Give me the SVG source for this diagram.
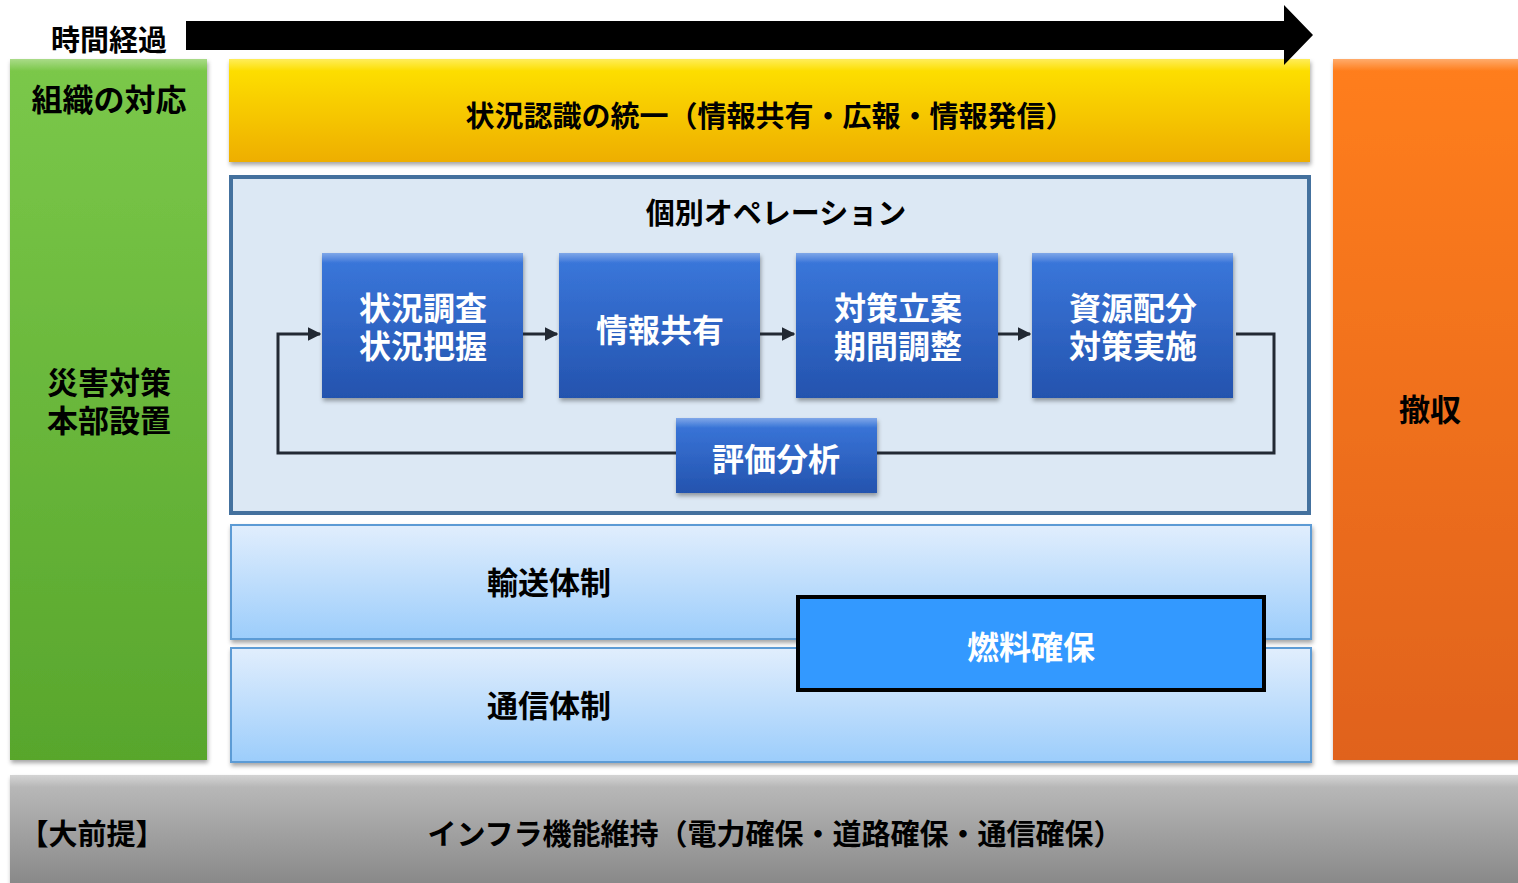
<svg xmlns="http://www.w3.org/2000/svg" width="1518" height="883" viewBox="0 0 1518 883">
<defs>
<linearGradient id="gGreen" x1="0" y1="0" x2="0" y2="1"><stop offset="0" stop-color="#7bc84a"/><stop offset="1" stop-color="#58a62c"/></linearGradient>
<linearGradient id="gYellow" x1="0" y1="0" x2="0" y2="1"><stop offset="0" stop-color="#ffe400"/><stop offset="1" stop-color="#eeae06"/></linearGradient>
<linearGradient id="gOrange" x1="0" y1="0" x2="0" y2="1"><stop offset="0" stop-color="#ff7e1c"/><stop offset="1" stop-color="#e0621a"/></linearGradient>
<linearGradient id="gBlue" x1="0" y1="0" x2="0" y2="1"><stop offset="0" stop-color="#3b78dc"/><stop offset="1" stop-color="#2453ae"/></linearGradient>
<linearGradient id="gBand" x1="0" y1="0" x2="0" y2="1"><stop offset="0" stop-color="#e1eefd"/><stop offset="1" stop-color="#9ccdfb"/></linearGradient>
<linearGradient id="gGray" x1="0" y1="0" x2="0" y2="1"><stop offset="0" stop-color="#bdbdbd"/><stop offset="1" stop-color="#888888"/></linearGradient>
<linearGradient id="gHi" x1="0" y1="0" x2="0" y2="1"><stop offset="0" stop-color="#ffffff" stop-opacity="0.35"/><stop offset="1" stop-color="#ffffff" stop-opacity="0"/></linearGradient>
<filter id="sh" x="-5%" y="-5%" width="115%" height="120%"><feDropShadow dx="1" dy="3" stdDeviation="2" flood-color="#000" flood-opacity="0.35"/></filter>
<marker id="arr" viewBox="0 0 10 10" refX="9" refY="5" markerWidth="4.5" markerHeight="4.5" orient="auto" markerUnits="strokeWidth"><path d="M0,0 L10,5 L0,10 z" fill="#222933"/></marker>
</defs>
<style>
text{font-family:"Noto Sans CJK JP","Noto Sans CJK SC",sans-serif;font-weight:bold;text-anchor:middle;dominant-baseline:central}
.k{fill:#000;font-size:29px}
.kb{fill:#000;font-size:31px}
.w{fill:#fff;font-size:32px}
.ml{dominant-baseline:auto}
.bx{fill:url(#gBlue);filter:url(#sh)}
.hi{fill:url(#gHi)}
.conn{fill:none;stroke:#222933;stroke-width:3}
</style>
<rect width="1518" height="883" fill="#fff"/>

<g id="org">
<rect x="10" y="59" width="197" height="701" fill="url(#gGreen)" filter="url(#sh)"/>
<rect x="10" y="59" width="197" height="12" class="hi"/>
<text class="kb" x="109" y="97">組織の対応</text>
<text class="kb ml" x="109" y="394">災害対策<tspan x="109" dy="38">本部設置</tspan></text>
</g>

<g id="awareness">
<rect x="229" y="59" width="1081" height="103" fill="url(#gYellow)" filter="url(#sh)"/>
<rect x="229" y="59" width="1081" height="12" class="hi"/>
<text class="k" x="770" y="114">状況認識の統一（情報共有・広報・情報発信）</text>
</g>

<g id="withdraw">
<rect x="1333" y="59" width="190" height="701" fill="url(#gOrange)" filter="url(#sh)"/>
<rect x="1333" y="59" width="190" height="12" class="hi"/>
<text class="kb" x="1430" y="407">撤収</text>
</g>

<g id="time-arrow">
<polygon points="186,21 1284,21 1284,5 1313,35 1284,65 1284,50 186,50" fill="#000"/>
<text class="k" x="109" y="38">時間経過</text>
</g>

<g id="operation">
<rect x="231" y="177" width="1078" height="336" fill="#dce8f4" stroke="#44719e" stroke-width="4"/>
<text class="k" x="776" y="211">個別オペレーション</text>
</g>

<g id="n1"><rect class="bx" x="322" y="253" width="201" height="145"/><rect class="hi" x="322" y="253" width="201" height="10"/>
<text class="w ml" x="423" y="320">状況調査<tspan x="423" dy="38">状況把握</tspan></text></g>
<g id="n2"><rect class="bx" x="559" y="253" width="201" height="145"/><rect class="hi" x="559" y="253" width="201" height="10"/>
<text class="w" x="660" y="328">情報共有</text></g>
<g id="n3"><rect class="bx" x="796" y="253" width="202" height="145"/><rect class="hi" x="796" y="253" width="202" height="10"/>
<text class="w ml" x="898" y="320">対策立案<tspan x="898" dy="38">期間調整</tspan></text></g>
<g id="n4"><rect class="bx" x="1032" y="253" width="201" height="145"/><rect class="hi" x="1032" y="253" width="201" height="10"/>
<text class="w ml" x="1133" y="320">資源配分<tspan x="1133" dy="38">対策実施</tspan></text></g>
<g id="n5"><rect class="bx" x="676" y="418" width="201" height="75"/><rect class="hi" x="676" y="418" width="201" height="10"/>
<text class="w" x="776" y="457">評価分析</text></g>

<g id="connectors">
<path class="conn" d="M523,334 L557,334" marker-end="url(#arr)"/>
<path class="conn" d="M760,334 L794,334" marker-end="url(#arr)"/>
<path class="conn" d="M998,334 L1030,334" marker-end="url(#arr)"/>
<path class="conn" d="M1236,334 L1274,334 L1274,453 L877,453"/>
<path class="conn" d="M676,453 L278,453 L278,334 L320,334" marker-end="url(#arr)"/>
</g>

<g id="transport">
<rect x="231" y="525" width="1080" height="114" fill="url(#gBand)" stroke="#5b9bd5" stroke-width="2" filter="url(#sh)"/>
<text class="kb" x="549" y="580">輸送体制</text>
</g>
<g id="comm">
<rect x="231" y="648" width="1080" height="114" fill="url(#gBand)" stroke="#5b9bd5" stroke-width="2" filter="url(#sh)"/>
<text class="kb" x="549" y="703">通信体制</text>
</g>
<g id="fuel">
<rect x="798" y="597" width="466" height="93" fill="#3399ff" stroke="#000" stroke-width="4"/>
<text class="w" x="1031" y="645">燃料確保</text>
</g>

<g id="premise">
<rect x="10" y="775" width="1513" height="110" fill="url(#gGray)" filter="url(#sh)"/>
<rect x="10" y="775" width="1513" height="12" class="hi"/>
<text class="k" x="92" y="832">【大前提】</text>
<text class="k" x="775" y="832">インフラ機能維持（電力確保・道路確保・通信確保）</text>
</g>
</svg>
